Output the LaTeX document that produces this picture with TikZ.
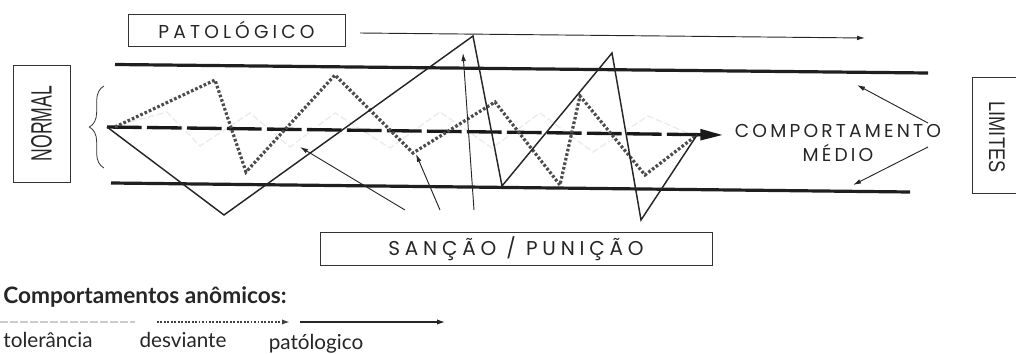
\documentclass[tikz,border=0pt]{standalone}
\usepackage{fontspec}
\usetikzlibrary{arrows.meta,decorations.pathreplacing}
\newfontfamily\geo[LetterSpace=17]{Poppins}
\newfontfamily\geop[LetterSpace=22]{Poppins}
\newfontfamily\geow[LetterSpace=24]{Poppins}
\newfontfamily\hum{Lato}
\newfontfamily\cond{Liberation Sans}
\begin{document}
\begin{tikzpicture}[x=0.75pt,y=-0.75pt,
  bound/.style={line width=2.4pt, black!88},
  midline/.style={line width=2.5pt, black!90, dash pattern=on 26pt off 4pt, -{Triangle[length=17pt,width=8pt]}},
  patho/.style={line width=1.1pt, black!85, line join=miter},
  desv/.style={line width=2.4pt, black!70, dash pattern=on 2pt off 1.5pt},
  tol/.style={line width=1pt, black!8, dash pattern=on 5pt off 2pt},
  thinarrow/.style={line width=0.7pt, black!85, -{Latex[length=6pt,width=3.5pt]}},
  boxed/.style={draw, line width=0.6pt, black!80, inner sep=0pt, text=black!85},
  geotext/.style={font=\geo\fontsize{14}{18}\selectfont, text=black!85},
  legtext/.style={inner sep=0pt, anchor=base, text=black!85, font=\hum\fontsize{15.5}{16}\selectfont}
]
\useasboundingbox (0,0) rectangle (1016,353);

% boundary lines
\coordinate (t0) at (115,64.5); \coordinate (t1) at (928,73);
\coordinate (b0) at (111,183); \coordinate (b1) at (910,192);
\draw[bound] (t0) -- (t1);
\draw[bound] (b0) -- (b1);

% tolerance (faint)
\draw[tol] (112,127) -- (167,112) -- (200,146) -- (250,113) -- (290,147) -- (335,113) -- (390,148) -- (440,112) -- (492,148) -- (540,113) -- (593,152) -- (648,116) -- (690,134);

% mean behaviour line
\coordinate (m0) at (107,127); \coordinate (m1) at (723,135);
\draw[midline] (m0) -- (m1);

% deviant (dotted)
\draw[desv] (115,127) -- (215,80) -- (246,172) -- (335,75) -- (413,153) -- (495,102) -- (560,185) -- (580,96) -- (645,175) -- (697,135);

% pathological (solid)
\draw[patho] (107,127) -- (224,215) -- (473,36) -- (502,186) -- (612,53) -- (641,220) -- (697,135);

% boxes
\node[boxed, minimum width=162.75pt, minimum height=24pt, font=\geop\fontsize{14}{18}\selectfont] (pat) at (236.5,30) {PATOLÓGICO};
\node[boxed, rotate=90, minimum width=87.75pt, minimum height=42.75pt] (normal) at (41.5,123.5)
  {\cond\fontsize{22}{22}\selectfont\scalebox{0.6}[1]{NORMAL}};
\node[boxed, minimum width=294pt, minimum height=24.75pt, font=\geow\fontsize{15}{18}\selectfont] (sanc) at (516,248.5) {SANÇÃO / PUNIÇÃO};
\node[rotate=-90, text=black!85] (lim) at (997,137) {\cond\fontsize{17}{17}\selectfont\scalebox{0.8}[1]{LIMITES}};
\draw[line width=0.6pt, black!80] (1016,77) -- (972,77) -- (972,193) -- (1016,193);

\node[geotext, align=center] (cm) at (838,143) {COMPORTAMENTO\\MÉDIO};

% brace
\draw[line width=0.6pt, black!80, decorate, decoration={brace, amplitude=11pt}] (104,168) -- (104,86);

% arrows
\coordinate (ps) at (360,33); \coordinate (pe) at (865,38);
\draw[thinarrow] (ps) -- (pe);
\coordinate (ls) at (928,123); \coordinate (le1) at (857,85);
\coordinate (ls2) at (928,147); \coordinate (le2) at (853,185);
\draw[thinarrow] (ls) -- (le1);
\draw[thinarrow] (ls2) -- (le2);
\coordinate (s1) at (405,210); \coordinate (h1) at (300,147);
\coordinate (s2) at (440,210); \coordinate (h2) at (416,154);
\coordinate (s3) at (474,210); \coordinate (h3) at (463,53);
\draw[thinarrow] (s1) -- (h1);
\draw[thinarrow] (s2) -- (h2);
\draw[thinarrow] (s3) -- (h3);

% legend
\node[anchor=west, inner sep=0pt, text=black!85] (head) at (3,297) {\hum\bfseries\fontsize{17}{17}\selectfont Comportamentos anômicos:};
\coordinate (g0) at (0,322); \coordinate (g1) at (135,322);
\coordinate (g2) at (157,322); \coordinate (g3) at (290,322);
\coordinate (g4) at (300,322); \coordinate (g5) at (445,322);
\draw[line width=1pt, black!20, dash pattern=on 6pt off 1.5pt] (g0) -- (g1);
\draw[line width=1.2pt, black!75, dash pattern=on 1.4pt off 1.2pt, -{Latex[length=6pt,width=4pt]}] (g2) -- (g3);
\draw[line width=0.9pt, black!85, -{Latex[length=6pt,width=4pt]}] (g4) -- (g5);
\node[legtext] (ltol) at (48,347) {tolerância};
\node[legtext] (ldes) at (183,347) {desviante};
\node[legtext] (lpat) at (316,349) {patólogico};
\end{tikzpicture}
\end{document}
